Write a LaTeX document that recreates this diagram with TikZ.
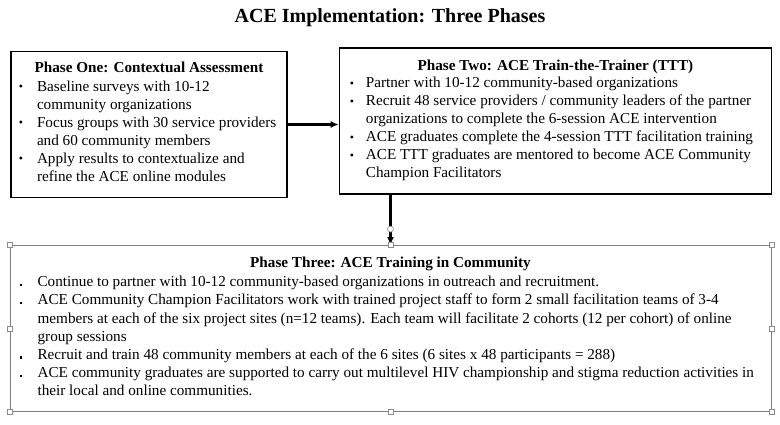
\documentclass[tikz,border=0pt]{standalone}
\usepackage{fontspec}
\setmainfont{Liberation Serif}
\usetikzlibrary{arrows.meta, positioning}

\newcommand{\dotmark}{\raisebox{0.6pt}{\fontsize{12}{12}\selectfont\textbullet}}
\newcommand{\sqmark}{\raisebox{0.4pt}{\rule{2.6pt}{2.6pt}}}

\tikzset{
    phase/.style   = {draw, line width=1.4pt, inner sep=0pt},
    faint/.style   = {draw=black!50, line width=0.8pt, inner sep=0pt},
    head/.style    = {font=\fontsize{15.2}{18}\selectfont\bfseries, inner sep=0pt, anchor=base},
    items/.style   = {font=\fontsize{15.2}{18}\selectfont, inner sep=0pt, anchor=north west},
    link/.style    = {-{Latex[length=8pt, width=7pt]}, line width=2.2pt},
    grip/.style    = {draw=black!45, fill=white, line width=0.5pt, minimum size=5pt, inner sep=0pt},
    turn/.style    = {circle, draw=black!45, fill=white, line width=0.6pt, minimum size=6pt, inner sep=0pt}
}

\begin{document}
\begin{tikzpicture}[x=1pt, y=-1pt]
    \useasboundingbox (0,0) rectangle (780,424);

    \node[font=\fontsize{20}{24}\selectfont\bfseries, inner sep=0pt, anchor=base] (title) at (390,22.7) {ACE Implementation: Three Phases};

    \node[phase, minimum width=276pt, minimum height=146pt]                       (one)   at (149,124.5) {};
    \node[phase, minimum width=432pt, minimum height=146pt, yshift=3.5pt]         (two)   [right=51pt of one] {};
    \node[faint, minimum width=761pt, minimum height=166pt]                       (three) at (390.5,328.5) {};

    \node[head]  (onehead)   at ([yshift=-21.5pt]one.north)   {Phase One: Contextual Assessment};
    \node[head]  (twohead)   at ([yshift=-22.7pt]two.north)   {Phase Two: ACE Train-the-Trainer (TTT)};
    \node[head]  (threehead) at ([yshift=-22.5pt]three.north) {Phase Three: ACE Training in Community};

    \node[items] (onelist) at ([xshift=8.5pt, yshift=-27.4pt]one.north west) {%
        \begin{tabular}{@{}p{18pt}@{}l@{}}
        \dotmark & Baseline surveys with 10-12 \\
                 & community organizations \\
        \dotmark & Focus groups with 30 service providers \\
                 & and 60 community members \\
        \dotmark & Apply results to contextualize and \\
                 & refine the ACE online modules
        \end{tabular}};

    \node[items] (twolist) at ([xshift=11pt, yshift=-27.7pt]two.north west) {%
        \begin{tabular}{@{}p{16pt}@{}l@{}}
        \dotmark & Partner with 10-12 community-based organizations \\
        \dotmark & Recruit 48 service providers / community leaders of the partner \\
                 & organizations to complete the 6-session ACE intervention \\
        \dotmark & ACE graduates complete the 4-session TTT facilitation training \\
        \dotmark & ACE TTT graduates are mentored to become ACE Community \\
                 & Champion Facilitators
        \end{tabular}};

    \node[items, font=\fontsize{15.2}{18.2}\selectfont] (threelist) at ([xshift=10pt, yshift=-28.6pt]three.north west) {%
        \begin{tabular}{@{}p{17.8pt}@{}l@{}}
        \sqmark & Continue to partner with 10-12 community-based organizations in outreach and recruitment. \\
        \sqmark & ACE Community Champion Facilitators work with trained project staff to form 2 small facilitation teams of 3-4 \\
                & members at each of the six project sites (n=12 teams). Each team will facilitate 2 cohorts (12 per cohort) of online \\
                & group sessions \\
        \sqmark & Recruit and train 48 community members at each of the 6 sites (6 sites x 48 participants = 288) \\
        \sqmark & ACE community graduates are supported to carry out multilevel HIV championship and stigma reduction activities in \\
                & their local and online communities.
        \end{tabular}};

    \draw[link] (one.east) -- (one.east -| two.west);
    \draw[link, line width=3pt] (three.north |- two.south) -- (three.north);

    \node[turn] (spin) at ([yshift=16pt]three.north) {};
    \foreach \a [count=\i] in {north west, north, north east, east, south east, south, south west, west}
        \node[grip] (g\i) at (three.\a) {};
\end{tikzpicture}
\end{document}
